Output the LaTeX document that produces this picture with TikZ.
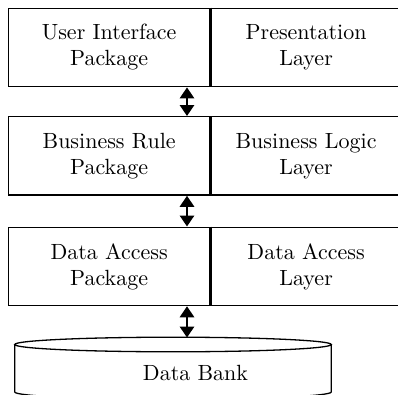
\documentclass[tikz,border=0pt]{standalone}
\usepackage{fontspec}
\newfontfamily\lmten{lmroman10-regular}[Extension=.otf]
\usetikzlibrary{arrows.meta}
\tikzset{
  cell/.style={draw, line width=1.3pt, inner sep=0pt, align=center,
    font=\lmten\fontsize{22}{26}\selectfont},
  lcell/.style={cell, minimum width=201.7pt, minimum height=78.4pt},
  rcell/.style={cell, minimum width=192.4pt, minimum height=78.4pt},
  divider/.style={line width=2pt},
  link/.style={line width=2.8pt, {Triangle[width=14pt,length=11pt]}-{Triangle[width=14pt,length=11pt]}},
  cyl/.style={line width=1.3pt},
  lbl/.style={font=\lmten\fontsize{22}{26}\selectfont, inner sep=0pt}
}
\begin{document}
\begin{tikzpicture}[x=1pt,y=-1pt]
\useasboundingbox (0,0) rectangle (398,395);
\begin{scope}
\clip (0,0) rectangle (398,395);
% layer 1
\node[lcell] (ui) at (109.15,47.5) {User Interface\\Package};
\node[rcell] (pl) at (306.1,47.5) {Presentation\\Layer};
\draw[divider] (ui.north east) -- (ui.south east);
% layer 2
\node[lcell] (br) at (109.15,155.9) {Business Rule\\Package};
\node[rcell] (bl) at (306.1,155.9) {Business Logic\\Layer};
\draw[divider] (br.north east) -- (br.south east);
% layer 3
\node[lcell] (da) at (109.15,266.4) {Data Access\\Package};
\node[rcell] (dl) at (306.1,266.4) {Data Access\\Layer};
\draw[divider] (da.north east) -- (da.south east);
% cylinder
\draw[cyl] (173,344.5) ellipse [x radius=158.3, y radius=7.3];
\draw[cyl] (14.7,344.5) -- (14.7,392) arc[start angle=180, end angle=360, x radius=158.3, y radius=-7.3] -- (331.3,344.5);
\coordinate (dbtop) at (187,337.6);
\node[lbl, anchor=base] (db) at (195.5,380) {Data Bank};
% arrows
\draw[link] (ui.south -| 187,0) -- (br.north -| 187,0);
\draw[link] (br.south -| 187,0) -- (da.north -| 187,0);
\draw[link] (da.south -| 187,0) -- (dbtop);
\end{scope}
\end{tikzpicture}
\end{document}
